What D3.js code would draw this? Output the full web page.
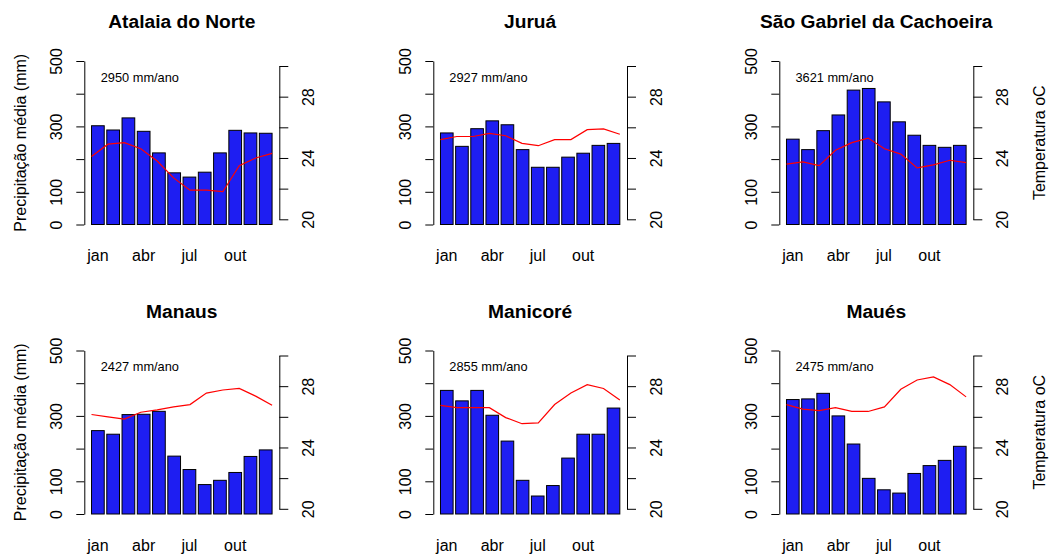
<!DOCTYPE html>
<html>
<head>
<meta charset="utf-8">
<script src="https://cdn.jsdelivr.net/npm/d3@7"></script>
<style>
  html, body { margin: 0; padding: 0; background: #fff; }
  svg { display: block; font-family: "Liberation Sans", Arial, Helvetica, sans-serif; }
</style>
</head>
<body>
<svg id="chart" width="1049" height="554"></svg>
<script>
// Climatologia mensal: precipitação (barras) e temperatura (linha) por estação
const estacoes = ["Atalaia do Norte", "Juruá", "São Gabriel da Cachoeira", "Manaus", "Manicoré", "Maués"];
const totalAnual = [2950, 2927, 3621, 2427, 2855, 2475];
const meses = ["jan", "fev", "mar", "abr", "mai", "jun", "jul", "ago", "set", "out", "nov", "dez"];
const mesesRotulados = ["jan", "abr", "jul", "out"];

// precipitação média mensal (mm)
const chuvaAtalaia   = [302, 289, 326, 285, 219, 158, 145, 160, 219, 288, 280, 279];
const chuvaJurua     = [280, 239, 293, 317, 305, 229, 175, 175, 206, 218, 242, 248];
const chuvaSaoGabriel= [261, 229, 287, 335, 411, 416, 375, 314, 273, 242, 236, 242];
const chuvaManaus    = [255, 244, 304, 305, 314, 177, 136, 90, 103, 127, 176, 196];
const chuvaManicore  = [378, 346, 378, 302, 223, 103, 55, 87, 171, 244, 244, 324];
const chuvaMaues     = [350, 352, 369, 300, 214, 109, 74, 64, 124, 148, 164, 207];

// temperatura média mensal (oC)
const tempAtalaia    = [24.1, 24.9, 25.0, 24.6, 23.8, 22.7, 21.9, 21.9, 21.8, 23.5, 24.0, 24.3];
const tempJurua      = [25.2, 25.4, 25.4, 25.6, 25.45, 24.95, 24.8, 25.2, 25.2, 25.85, 25.9, 25.55];
const tempSaoGabriel = [23.6, 23.75, 23.5, 24.5, 25.0, 25.3, 24.6, 24.25, 23.35, 23.55, 23.85, 23.7];
const tempManaus     = [26.15, 26.0, 25.85, 26.3, 26.45, 26.65, 26.8, 27.55, 27.75, 27.85, 27.35, 26.75];
const tempManicore   = [26.75, 26.6, 26.6, 26.6, 25.95, 25.55, 25.6, 26.8, 27.55, 28.1, 27.85, 27.1];
const tempMaues      = [26.8, 26.5, 26.4, 26.6, 26.35, 26.35, 26.65, 27.8, 28.4, 28.6, 28.1, 27.3];

const ticksChuva = [0, 100, 200, 300, 400, 500];
const rotulosChuva = [0, 100, 300, 500];
const ticksTemp = [20, 22, 24, 26, 28, 30];
const rotulosTemp = [20, 24, 28];

const chuva = [chuvaAtalaia, chuvaJurua, chuvaSaoGabriel, chuvaManaus, chuvaManicore, chuvaMaues];
const temperatura = [tempAtalaia, tempJurua, tempSaoGabriel, tempManaus, tempManicore, tempMaues];

// layout (px)
const colLeft  = [84.3, 433.3, 779.3];
const colRight = [279.3, 627.0, 973.3];
const rowShift = [0, 289.5];
const yZero = 224.5, yMax = 61.0;      // 0 e 500 mm
const yT20 = 219.3, yT30 = 66.0;       // 20 e 30 oC

const svg = d3.select("#chart");
svg.append("rect").attr("width", 1049).attr("height", 554).attr("fill", "#fff");

const FONT = 16;

estacoes.forEach((nome, k) => {
  const col = k % 3, row = Math.floor(k / 3);
  const L = colLeft[col], R = colRight[col], dy = rowShift[row];
  const g = svg.append("g");

  // escala horizontal das barras (largura 1, espaço 0.2, margem de 4%)
  const n = meses.length;
  const xmin = 0.2, xmax = 1.2 * n;
  const ext = (xmax - xmin) * 0.04;
  const xB = d3.scaleLinear().domain([xmin - ext, xmax + ext]).range([L, R]);
  // escala horizontal da linha de temperatura (1..12, margem de 4%)
  const extT = (n - 1) * 0.04;
  const xT = d3.scaleLinear().domain([1 - extT, n + extT]).range([L, R]);

  const yP = d3.scaleLinear().domain([0, 500]).range([yZero + dy, yMax + dy]);
  const yT = d3.scaleLinear().domain([20, 30]).range([yT20 + dy, yT30 + dy]);

  // barras
  g.selectAll("rect.bar").data(chuva[k]).join("rect")
    .attr("class", "bar")
    .attr("x", (d, i) => xB(0.2 + 1.2 * i))
    .attr("width", (d, i) => xB(1.2 + 1.2 * i) - xB(0.2 + 1.2 * i))
    .attr("y", d => yP(d))
    .attr("height", d => yP(0) - yP(d))
    .attr("fill", "#1e1ef2")
    .attr("stroke", "#000")
    .attr("stroke-width", 1);

  // linha de temperatura
  const linha = d3.line().x((d, i) => xT(i + 1)).y(d => yT(d));
  g.append("path").datum(temperatura[k])
    .attr("d", linha)
    .attr("fill", "none")
    .attr("stroke", "#ff0000")
    .attr("stroke-width", 1.2);

  // eixo esquerdo (precipitação)
  const axL = g.append("g").attr("transform", `translate(${L},0)`)
    .call(d3.axisLeft(yP).tickValues(ticksChuva).tickSize(8).tickSizeOuter(0)
      .tickFormat(d => rotulosChuva.includes(d) ? d3.format("d")(d) : ""));
  axL.selectAll("text")
    .attr("x", null).attr("dy", null)
    .attr("text-anchor", "middle")
    .attr("transform", "translate(-22,0) rotate(-90)")
    .attr("fill", "#000")
    .style("font-size", FONT + "px");

  // eixo direito (temperatura)
  const axR = g.append("g").attr("transform", `translate(${R},0)`)
    .call(d3.axisRight(yT).tickValues(ticksTemp).tickSize(9).tickSizeOuter(0)
      .tickFormat(d => rotulosTemp.includes(d) ? d3.format("d")(d) : ""));
  axR.selectAll("text")
    .attr("x", null).attr("dy", null)
    .attr("text-anchor", "middle")
    .attr("transform", "translate(34.5,0) rotate(-90)")
    .attr("fill", "#000")
    .style("font-size", FONT + "px");

  [axL, axR].forEach(a => {
    a.attr("font-family", null).attr("font-size", null);
    a.selectAll("path.domain, line").attr("stroke", "#000").attr("stroke-width", 1);
  });

  // rótulos dos meses
  g.selectAll("text.mes").data(mesesRotulados).join("text")
    .attr("class", "mes")
    .attr("x", d => { const i = meses.indexOf(d); return xB(0.7 + 1.2 * i); })
    .attr("y", 261 + dy)
    .attr("text-anchor", "middle")
    .style("font-size", FONT + "px")
    .text(d => d);

  // total anual
  g.append("text")
    .attr("x", xB(4))
    .attr("y", yP(450))
    .attr("dy", "0.35em")
    .attr("text-anchor", "middle")
    .style("font-size", "12.8px")
    .text(`${totalAnual[k]} mm/ano`);

  // título
  g.append("text")
    .attr("x", (L + R) / 2)
    .attr("y", 28.3 + dy)
    .attr("text-anchor", "middle")
    .style("font-size", "19.2px")
    .style("font-weight", "bold")
    .text(nome);

  const yMid = (yZero + yMax) / 2 + dy;
  if (col === 0) {
    g.append("text")
      .attr("transform", `translate(26,${yMid}) rotate(-90)`)
      .attr("text-anchor", "middle")
      .style("font-size", FONT + "px")
      .text("Precipitação média (mm)");
  }
  if (col === 2) {
    g.append("text")
      .attr("transform", `translate(1045,${yMid}) rotate(-90)`)
      .attr("text-anchor", "middle")
      .style("font-size", FONT + "px")
      .text("Temperatura oC");
  }
});
</script>
</body>
</html>
